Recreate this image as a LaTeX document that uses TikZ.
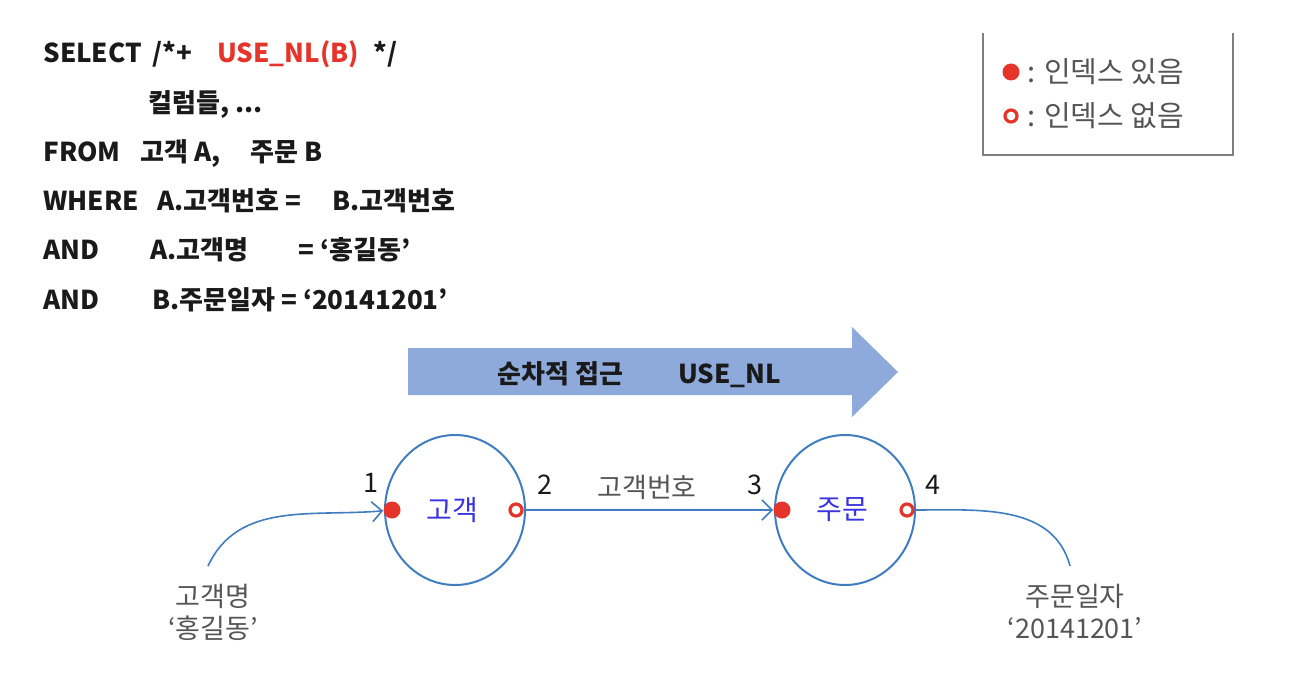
\documentclass[tikz,border=0pt]{standalone}
\usepackage{fontspec}
\setmainfont{Noto Sans CJK KR}
\usepackage{tikz}
\usetikzlibrary{arrows.meta,shapes.geometric}
\definecolor{kirmizi}{HTML}{E5352B}
\definecolor{okMavi}{HTML}{8EAADB}
\definecolor{cizgiMavi}{HTML}{3F7CC0}
\definecolor{morMavi}{HTML}{3A33E0}
\definecolor{koyuGri}{HTML}{1A1A1A}
\definecolor{ortaGri}{HTML}{555555}
\definecolor{cerceveGri}{HTML}{7F7F7F}

\begin{document}
\begin{tikzpicture}[x=0.5pt,y=0.5pt,
  sorgu/.style={anchor=base west,inner sep=0pt,font=\fontsize{13}{15}\selectfont\bfseries,text=koyuGri},
  etiket/.style={inner sep=0pt,font=\fontsize{13.5}{16}\selectfont,text=ortaGri},
  tablo/.style={ellipse,draw=cizgiMavi,line width=1pt,minimum width=70pt,minimum height=75pt,inner sep=0pt},
  varNokta/.style={circle,fill=kirmizi,inner sep=0pt,minimum size=8.5pt},
  yokNokta/.style={circle,draw=kirmizi,line width=1.6pt,fill=white,inner sep=0pt,minimum size=6pt},
  baglanti/.style={draw=cizgiMavi,line width=0.8pt,-{Straight Barb[length=5pt,width=10pt]}}]
\useasboundingbox (0,0) rectangle (1294,676);
% sorgu metni
\node[sorgu] (s1a) at (43,613) {SELECT};
\node[sorgu] (s1b) at (152,613) {/*+};
\node[sorgu,text=kirmizi] (s1c) at (217,613) {USE\_NL(B)};
\node[sorgu] (s1d) at (373,613) {*/};
\node[sorgu] (s2) at (148,563.8) {컬럼들, ...};
\node[sorgu] (s3a) at (43,514.6) {FROM};
\node[sorgu] (s3b) at (140,514.6) {고객 A,};
\node[sorgu] (s3c) at (250,514.6) {주문 B};
\node[sorgu] (s4a) at (43,465.4) {WHERE};
\node[sorgu] (s4b) at (157,465.4) {A.고객번호 =};
\node[sorgu] (s4c) at (332,465.4) {B.고객번호};
\node[sorgu] (s5a) at (43,416.2) {AND};
\node[sorgu] (s5b) at (150,416.2) {A.고객명};
\node[sorgu] (s5c) at (298,416.2) {= ‘홍길동’};
\node[sorgu] (s6a) at (43,367) {AND};
\node[sorgu] (s6b) at (152,367) {B.주문일자 = ‘20141201’};
% lejant
\draw[cerceveGri,line width=1pt] (983,643) |- (1233,521) -- (1233,643);
\node[varNokta] (lv) at (1011,604) {};
\node[etiket,anchor=west,font=\fontsize{14.5}{17}\selectfont] (lvt) at (1027,604) {: 인덱스 있음};
\node[yokNokta] (ly) at (1011,560) {};
\node[etiket,anchor=west,font=\fontsize{14.5}{17}\selectfont] (lyt) at (1027,560) {: 인덱스 없음};
% erisim yonu
\fill[okMavi] (408,328) -- (852,328) -- (852,349) -- (898,304) -- (852,259) -- (852,281) -- (408,281) -- cycle;
\node[sorgu] (yon1) at (497,293) {순차적 접근};
\node[sorgu] (yon2) at (678,293) {USE\_NL};
% tablolar
\node[tablo] (gogek) at (455,166) {};
\node[tablo] (jumun) at (845,166) {};
\node[etiket,text=morMavi,font=\fontsize{14}{16}\selectfont] (gt) at (452,166) {고객};
\node[etiket,text=morMavi,font=\fontsize{14}{16}\selectfont] (jt) at (842,166) {주문};
\node[varNokta] (n1) at ([xshift=4pt]gogek.west) {};
\node[yokNokta] (n2) at ([xshift=-5pt]gogek.east) {};
\node[varNokta] (n3) at ([xshift=4pt]jumun.west) {};
\node[yokNokta] (n4) at ([xshift=-4.5pt]jumun.east) {};
\node[etiket,text=koyuGri] (k1) at (371,193) {1};
\node[etiket,text=koyuGri] (k2) at (545,191) {2};
\node[etiket,text=koyuGri] (k3) at (755,191) {3};
\node[etiket,text=koyuGri] (k4) at (933,191) {4};
\node[etiket] (anahtar) at (647,189) {고객번호};
% baglantilar
\coordinate (kaynak) at (208,110);
\coordinate (hedef) at (1070,110);
\draw[baglanti] (kaynak) to[out=65,in=185] (n1);
\draw[baglanti] (n2) -- (n3);
\draw[draw=cizgiMavi,line width=0.8pt] (n4) to[out=0,in=105] (hedef);
\node[etiket,align=center] (kosul1) at (213,64) {고객명\\‘홍길동’};
\node[etiket,align=center] (kosul2) at (1075,64) {주문일자\\‘20141201’};
\end{tikzpicture}
\end{document}
